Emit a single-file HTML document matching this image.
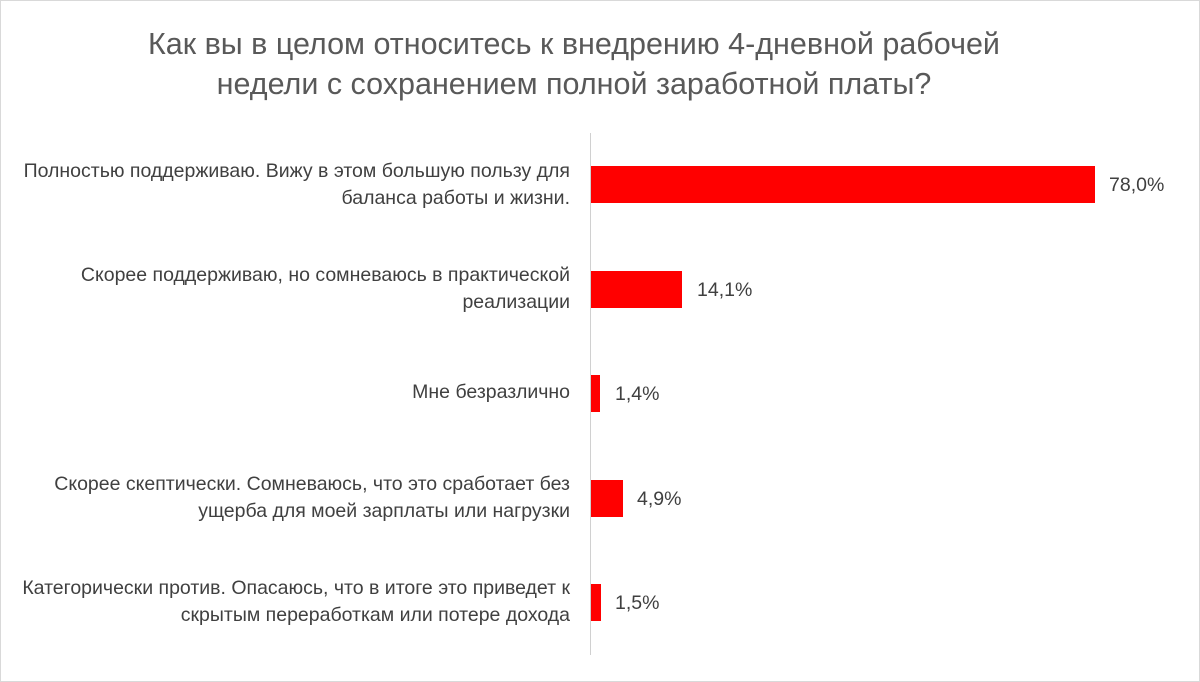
<!DOCTYPE html>
<html><head><meta charset="utf-8"><style>
html,body{margin:0;padding:0;background:#fff}
body{width:1200px;height:682px;position:relative;overflow:hidden;font-family:"Liberation Sans","DejaVu Sans",sans-serif}
.frame{position:absolute;left:0;top:0;width:1198px;height:680px;border:1px solid #d9d9d9}
.title{position:absolute;left:0;width:1148px;text-align:center;font-size:30.5px;color:#595959;line-height:40px;white-space:nowrap}
.axis{position:absolute;left:590px;top:133px;width:1px;height:522px;background:#d0d0d0}
.bar{position:absolute;left:591px;height:37px;background:#ff0000}
.lab{position:absolute;right:630px;width:600px;text-align:right;font-size:19.5px;color:#404040;line-height:27px;white-space:nowrap}
.val{position:absolute;font-size:19.5px;color:#404040;line-height:27px}
</style></head><body>
<div class="frame"></div>
<div class="title" style="top:24px">Как вы в целом относитесь к внедрению 4-дневной рабочей</div>
<div class="title" style="top:64px">недели с сохранением полной заработной платы?</div>
<div class="axis"></div>

<div class="lab" style="top:158px">Полностью поддерживаю. Вижу в этом большую пользу для<br>баланса работы и жизни.</div>
<div class="bar" style="top:166px;width:504px"></div>
<div class="val" style="left:1109px;top:172px">78,0%</div>

<div class="lab" style="top:262px">Скорее поддерживаю, но сомневаюсь в практической<br>реализации</div>
<div class="bar" style="top:271px;width:91px"></div>
<div class="val" style="left:697px;top:277px">14,1%</div>

<div class="lab" style="top:379px">Мне безразлично</div>
<div class="bar" style="top:375px;width:9px"></div>
<div class="val" style="left:615px;top:381px">1,4%</div>

<div class="lab" style="top:471px">Скорее скептически. Сомневаюсь, что это сработает без<br>ущерба для моей зарплаты или нагрузки</div>
<div class="bar" style="top:480px;width:32px"></div>
<div class="val" style="left:637px;top:486px">4,9%</div>

<div class="lab" style="top:575px">Категорически против. Опасаюсь, что в итоге это приведет к<br>скрытым переработкам или потере дохода</div>
<div class="bar" style="top:584px;width:10px"></div>
<div class="val" style="left:615px;top:590px">1,5%</div>
</body></html>
